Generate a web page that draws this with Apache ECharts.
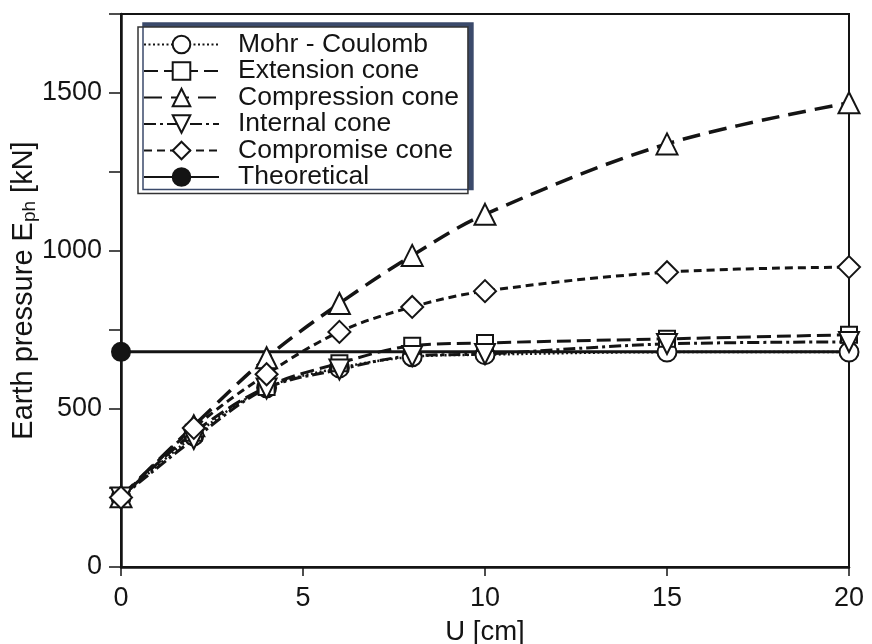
<!DOCTYPE html>
<html>
<head>
<meta charset="utf-8">
<script src="https://cdn.jsdelivr.net/npm/echarts@6/dist/echarts.min.js"></script>
<style>html,body{margin:0;padding:0;background:#fff;}#c{width:872px;height:644px;}</style>
</head>
<body>
<div id="c"></div>
<script>
const U = [0, 2, 4, 6, 8, 10, 15, 20];
const mohrCoulomb = [220, 415, 567, 630, 665, 672, 680, 680];
const extensionCone = [220, 425, 570, 645, 700, 709, 722, 735];
const compressionCone = [222, 447, 662, 834, 986, 1116, 1339, 1469];
const internalCone = [220, 405, 565, 625, 668, 674, 706, 712];
const compromiseCone = [220, 440, 610, 744, 823, 873, 933, 949];
const theoreticalU = [0, 20];
const theoretical = [681, 681];
const yTicks = [0, 500, 1000, 1500];
const xTicks = [0, 5, 10, 15, 20];

const pair = (xs, ys) => xs.map((x, i) => [x, ys[i]]);
const FONT = 'Liberation Sans, Arial, sans-serif';
const ink = '#141414';

function mk(name, data, symbol, size, lineType, width, filled) {
  return {
    name, type: 'line', data, symbol, symbolSize: size,
    showAllSymbol: true,
    smooth: 0.35,
    lineStyle: { color: ink, width: width, type: lineType },
    itemStyle: { color: filled ? ink : '#fff', borderColor: ink, borderWidth: 2 },
    emphasis: { disabled: true },
    z: 3
  };
}

const chart = echarts.init(document.getElementById('c'));
chart.setOption({
  animation: false,
  grid: { left: 121, right: 23, top: 14, bottom: 77, containLabel: false, outerBoundsMode: 'none',
          show: true, borderColor: ink, borderWidth: 2 },
  legend: {
    left: 138, top: 27, orient: 'vertical',
    padding: [4, 9, 3, 5],
    itemWidth: 75, itemHeight: 22, itemGap: -0.5,
    backgroundColor: '#fff', borderColor: '#333', borderWidth: 1.5,
    shadowColor: '#3b4a6b', shadowBlur: 0, shadowOffsetX: 5, shadowOffsetY: -4,
    textStyle: { fontFamily: FONT, fontSize: 26.5, color: ink, padding: [0, 0, 0, 14] },
    data: ['Mohr - Coulomb', 'Extension cone', 'Compression cone', 'Internal cone', 'Compromise cone', 'Theoretical']
  },
  xAxis: {
    type: 'value', min: 0, max: 20, interval: 5,
    name: 'U [cm]', nameLocation: 'middle', nameGap: 51,
    nameTextStyle: { fontFamily: FONT, fontSize: 27.5, color: ink },
    axisLine: { lineStyle: { color: ink, width: 2.5 } },
    axisTick: { inside: false, length: 9, lineStyle: { color: ink, width: 1.5 } },
    axisLabel: { margin: 18, fontFamily: FONT, fontSize: 27, color: ink,
      formatter: v => xTicks.includes(v) ? String(v) : '' },
    splitLine: { show: false }
  },
  yAxis: {
    type: 'value', min: 0, max: 1750, interval: 250,
    name: '{n|Earth pressure E}{s|ph}{n| [kN]}', nameLocation: 'middle', nameGap: 82,
    nameMoveOverlap: false,
    nameTextStyle: { fontFamily: FONT, fontSize: 29, color: ink,
      rich: { n: { fontFamily: FONT, fontSize: 29, color: ink },
              s: { fontFamily: FONT, fontSize: 19, color: ink, padding: [11, 0, 0, 0] } } },
    axisLine: { lineStyle: { color: ink, width: 2.5 } },
    axisTick: { inside: false, length: 12, lineStyle: { color: ink, width: 1.5 } },
    axisLabel: { margin: 19, fontFamily: FONT, fontSize: 27, color: ink,
      formatter: v => yTicks.includes(v) ? String(v) : '' },
    splitLine: { show: false }
  },
  series: [
    mk('Mohr - Coulomb', pair(U, mohrCoulomb), 'circle', 19, [2, 2.5], 2.5, false),
    mk('Extension cone', pair(U, extensionCone), 'rect', 16, [14, 6], 3, false),
    mk('Compression cone', pair(U, compressionCone), 'triangle', 21, [18, 9], 3.5, false),
    mk('Internal cone', pair(U, internalCone), 'path://M0,0 L10,0 L5,10 Z', 20, [12, 4, 3, 4], 3, false),
    mk('Compromise cone', pair(U, compromiseCone), 'diamond', 22, [8, 5], 3, false),
    Object.assign(mk('Theoretical', pair(theoreticalU, theoretical), 'circle', 18, 'solid', 3, true), { smooth: false, z: 2 })
  ]
});
</script>
</body>
</html>
